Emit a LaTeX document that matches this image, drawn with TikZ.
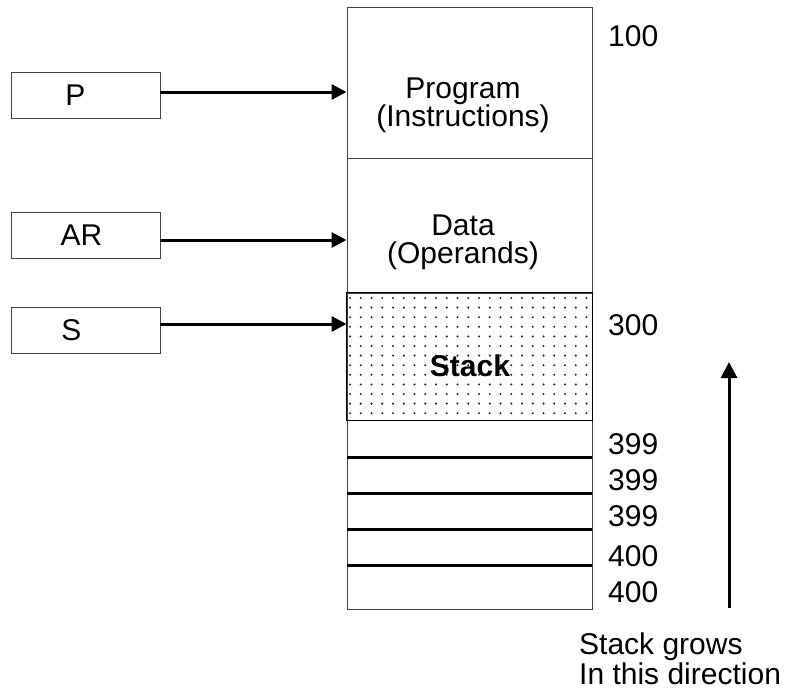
\documentclass[tikz,border=0pt]{standalone}
\usepackage{fontspec}
\setmainfont{Liberation Sans}
\usetikzlibrary{arrows.meta, positioning}
\colorlet{framegray}{black!75}
\colorlet{dotgray}{black!85}

\begin{document}
\begin{tikzpicture}[
    x=1pt, y=-1pt,
    seg/.style={
        rectangle, draw=framegray, line width=0.9pt,
        minimum width=245pt, inner sep=0pt
    },
    reg/.style={
        rectangle, draw=framegray, line width=0.9pt,
        minimum width=149pt, minimum height=46pt,
        inner sep=0pt, font=\fontsize{30}{30}\selectfont
    },
    txt/.style={
        font=\fontsize{30}{28}\selectfont, align=center, inner sep=0pt
    },
    addr/.style={
        font=\fontsize{30}{30}\selectfont, anchor=west, inner sep=0pt
    },
    ptr/.style={
        line width=3pt, -{Triangle[length=15pt, width=15pt]}
    },
    rule/.style={line width=2.2pt}
]
\useasboundingbox (0,0) rectangle (794,696);

% ===== Memory column =====
\node[seg, minimum height=151pt] (prog)  at (469.5,82.5)  {};
\node[seg, minimum height=135pt] (data)  at (469.5,225.5) {};
\node[seg, minimum height=127pt] (stack) at (469.5,356.5) {};
\node[seg, minimum height=37pt]  (c1) at (469.5,438.5) {};
\node[seg, minimum height=36pt]  (c2) at (469.5,475)   {};
\node[seg, minimum height=36pt]  (c3) at (469.5,511)   {};
\node[seg, minimum height=36pt]  (c4) at (469.5,547)   {};
\node[seg, minimum height=44pt]  (c5) at (469.5,587)   {};

% dotted fill of the stack area
\foreach \i in {0,...,22}
  \foreach \j in {0,...,12}
    \fill[dotgray] (350+\i*10.75, 298+\j*9.6) circle (1.15);
\draw[line width=1.8pt] (stack.north west) rectangle (stack.south east);

% cell separators
\foreach \c in {c1,c2,c3,c4}
  \draw[rule] (\c.south west) -- (\c.south east);

% ===== Texts in the column =====
\node[txt] (progtxt) at (463,105) {Program\\(Instructions)};
\node[txt] (datatxt) at (463,242) {Data\\(Operands)};
\node[txt, font=\fontsize{30}{30}\selectfont\bfseries] (stacktxt) at (470,366) {Stack};

% ===== Addresses =====
\node[addr] (a100) at (608,36)  {100};
\node[addr] (a300) at (608,325) {300};
\node[addr] (a399a) at (608,444) {399};
\node[addr] (a399b) at (608,480) {399};
\node[addr] (a399c) at (608,516) {399};
\node[addr] (a400a) at (608,556) {400};
\node[addr] (a400b) at (608,592) {400};

% ===== Registers =====
\node[reg] (rp)  at (85.5,95)  {\raisebox{-6pt}{P}\hspace*{20pt}};
\node[reg] (rar) at (85.5,235) {\raisebox{-4pt}{AR}\hspace*{8pt}};
\node[reg] (rs)  at (85.5,330) {\raisebox{-3pt}{S}\hspace*{28pt}};

\coordinate (tp)  at (prog.west |- 0,92);
\coordinate (tar) at (data.west |- 0,240);
\coordinate (ts)  at (stack.west |- 0,324);
\draw[ptr] (rp.east |- tp) -- (tp);
\draw[ptr] (rar.east |- tar) -- (tar);
\draw[ptr] (rs.east |- ts) -- (ts);

% ===== Growth direction =====
\coordinate (gbot) at (729,608);
\coordinate (gtop) at (729,362);
\draw[line width=3pt, -{Triangle[length=16pt, width=16pt]}] (gbot) -- (gtop);
\node[txt, align=left, anchor=north west, font=\fontsize{30}{30}\selectfont]
    (growtxt) at (579,633) {Stack grows\\In this direction};

\end{tikzpicture}
\end{document}
